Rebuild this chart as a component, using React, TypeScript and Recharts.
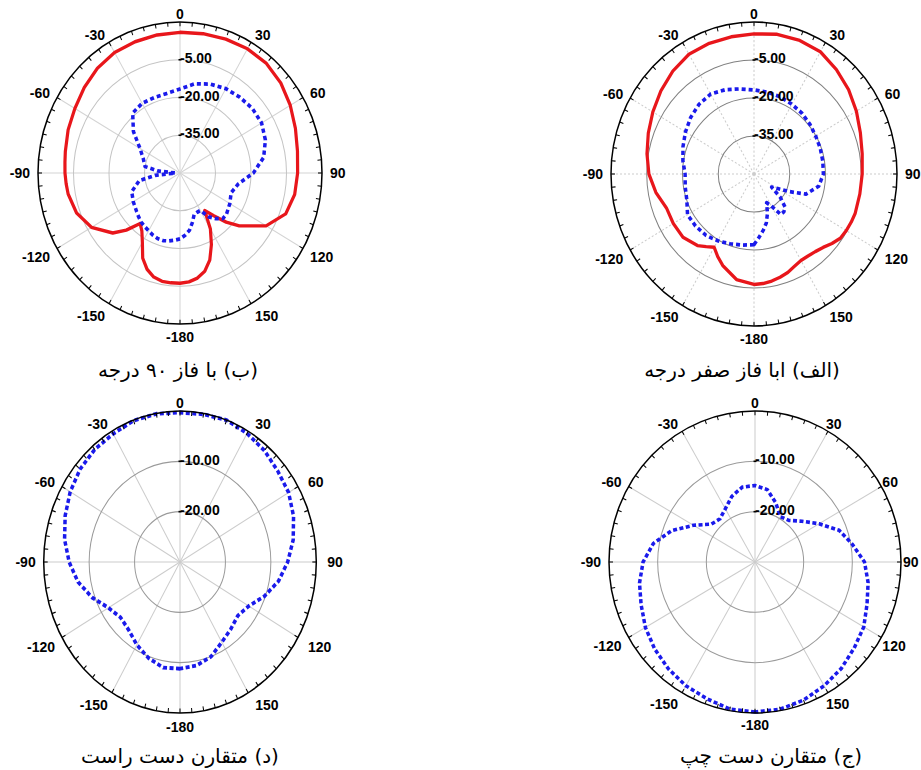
import { PolarAngleAxis, PolarGrid, PolarRadiusAxis, Radar, RadarChart } from 'recharts'

// angle axis: labels every 30 deg, minor ticks every 5 deg
const angleTicks = [-180, -150, -120, -90, -60, -30, 0, 30, 60, 90, 120, 150]
const minorTicks = Array.from({ length: 72 }, (_, i) => -180 + i * 5)

// (ب) 90 degree phase, dB
const anglesB = [-180, -175, -170, -165, -160, -155, -150, -145, -140, -135, -130, -120, -110, -100, -95, -90, -85, -80, -70, -60, -50, -40, -30, -20, -10, 0, 10, 20, 30, 40, 50, 60, 70, 80, 90, 100, 110, 120, 130, 135, 140, 145, 150, 155, 160, 165, 170, 175]
const redB = [-6.2, -6.2, -6.3, -7.2, -9.3, -12.7, -18.2, -21.9, -23.8, -17.9, -12.9, -6.8, -3.5, -2.0, -1.7, -1.4, -1.2, -0.8, 0.3, 1.3, 2.8, 4.3, 5.3, 5.5, 5.7, 5.9, 6.2, 6.6, 7.0, 6.8, 5.6, 3.8, 1.9, 0.4, -0.3, -0.8, -2.5, -8.0, -17.3, -22.4, -27.8, -31.8, -24.3, -18.6, -13.2, -9.6, -7.6, -6.6]
const blueB = [-23.8, -23.2, -22.6, -22.2, -22.3, -22.8, -23.5, -24.0, -24.5, -25.3, -26.1, -27.2, -28.3, -32.5, -39.5, -48.0, -40.5, -35.0, -33.5, -30.5, -24.3, -18.9, -18.0, -18.1, -17.9, -16.6, -14.0, -12.4, -11.3, -10.7, -10.1, -10.2, -11.6, -14.1, -19.0, -25.0, -27.0, -25.7, -24.4, -24.4, -26.3, -28.7, -32.8, -32.8, -32.5, -29.7, -26.9, -25.2]

// (الف) zero phase, dB
const anglesA = [-180, -170, -160, -155, -150, -145, -140, -130, -120, -110, -100, -90, -80, -70, -60, -50, -40, -30, -20, -10, 0, 10, 20, 30, 40, 50, 60, 70, 80, 90, 100, 110, 115, 120, 125, 130, 135, 140, 145, 150, 155, 160, 165, 170, 175]
const redA = [-6.4, -7.7, -11.6, -14.0, -16.6, -15.0, -13.1, -11.1, -10.9, -10.9, -8.2, -5.9, -4.4, -2.8, -1.0, 1.0, 3.0, 4.6, 4.9, 5.0, 5.3, 6.0, 6.1, 5.7, 3.8, 1.8, -0.4, -2.5, -3.9, -4.6, -4.9, -4.8, -5.0, -5.3, -5.8, -7.3, -9.0, -10.0, -10.5, -10.6, -9.8, -8.6, -7.8, -7.1, -6.6]
const blueA = [-22.1, -21.5, -20.7, -20.2, -19.6, -19.1, -18.5, -18.0, -17.8, -20.0, -20.7, -21.1, -19.7, -18.3, -16.8, -15.3, -14.1, -13.6, -14.6, -15.9, -16.8, -17.2, -17.6, -18.2, -18.7, -19.4, -20.1, -20.4, -20.7, -20.9, -22.4, -26.8, -33.5, -38.5, -41.0, -35.5, -31.6, -30.5, -30.5, -35.5, -37.5, -33.5, -30.0, -27.5, -25.0]

// (د) and (ج), 10 degree steps
const anglesCD = [-180, -170, -160, -150, -140, -130, -120, -110, -100, -90, -80, -70, -60, -50, -40, -30, -20, -10, 0, 10, 20, 30, 40, 50, 60, 70, 80, 90, 100, 110, 120, 130, 140, 150, 160, 170]
const rightHand = [-8.8, -8.7, -9.7, -11.0, -12.4, -12.9, -11.8, -9.4, -7.2, -5.6, -4.2, -3.1, -2.1, -1.3, -0.8, -0.6, -0.1, -0.1, -0.3, -0.2, 0.0, -0.5, -1.1, -1.9, -2.4, -3.4, -4.7, -6.3, -8.0, -10.2, -12.5, -13.4, -12.6, -11.6, -10.0, -9.1]
const leftHand = [-0.2, -0.3, -1.1, -1.6, -2.3, -3.1, -4.0, -5.1, -5.9, -7.0, -8.8, -11.8, -15.4, -18.3, -18.8, -17.8, -16.1, -14.9, -14.8, -15.4, -17.5, -19.6, -19.2, -17.4, -14.8, -11.6, -9.7, -7.5, -6.4, -5.5, -4.2, -3.4, -2.4, -1.6, -0.8, -0.3]

const rowsB = anglesB.map((angle, i) => ({ angle, red: redB[i], blue: blueB[i] }))
const rowsA = anglesA.map((angle, i) => ({ angle, red: redA[i], blue: blueA[i] }))
const rowsD = anglesCD.map((angle, i) => ({ angle, blue: rightHand[i] }))
const rowsC = anglesCD.map((angle, i) => ({ angle, blue: leftHand[i] }))

const RED = '#e8161b'
const BLUE = '#1a1aeb'
const SIZE = 400
const C = SIZE / 2
const LABEL_FONT = '"Liberation Sans", Arial, sans-serif'

// angle labels; rightShift nudges the labels on the right-hand side
const makeAngleTick = (rightShift: number) => (props: any) => {
    const { x, y, payload, textAnchor } = props
    const drop = y > C + 1 ? 4 : 0
    const nudge = textAnchor === 'start' ? rightShift : 0
    return (
        <text x={x + nudge} y={y + drop} dy="0.35em" textAnchor={textAnchor} fontFamily={LABEL_FONT} fontWeight="bold" fontSize={14} fill="#000">
            {payload.value}
        </text>
    )
}

const RingTick = (props: any) => {
    const { x, y, payload } = props
    return (
        <g>
            <line x1={x - 1.5} y1={y} x2={x + 1.5} y2={y} stroke="#000" strokeWidth={1.5} />
            <text x={x} y={y + 3} textAnchor="start" fontFamily={LABEL_FONT} fontWeight="bold" fontSize={14} fill="#000">
                {Number(payload.value).toFixed(2)}
            </text>
        </g>
    )
}

type Series = { key: string; color: string; width: number; dash?: string }

type PanelProps = {
    rows: Record<string, number>[]
    series: Series[]
    domain: [number, number]
    rings: number[]
    cx: number
    cy: number
    hr: number
    vr: number
    ringStroke: string
    spokeStroke: string
    spokeDash?: string
    rightShift?: number
}

// one polar plot, stretched vertically like the printed figure
const PolarPanel = ({ rows, series, domain, rings, cx, cy, hr, vr, ringStroke, spokeStroke, spokeDash, rightShift = 0 }: PanelProps) => (
    <div style={{ position: 'absolute', left: cx - C, top: cy - C, width: SIZE, height: SIZE, transform: `scaleY(${vr / hr})`, transformOrigin: `${C}px ${C}px` }}>
        <RadarChart width={SIZE} height={SIZE} data={rows} outerRadius={hr} startAngle={-90} endAngle={-450}>
            <PolarGrid gridType="circle" polarRadius={[]} stroke={spokeStroke} strokeDasharray={spokeDash} />
            <PolarGrid gridType="circle" radialLines={false} stroke={ringStroke} />
            <PolarAngleAxis dataKey="angle" type="number" domain={[-180, 180]} ticks={angleTicks} axisLine={false} tickLine={false} tick={makeAngleTick(rightShift)} tickSize={8} />
            <PolarAngleAxis angleAxisId="minor" dataKey="angle" type="number" domain={[-180, 180]} ticks={minorTicks} orientation="inner" tickSize={4} tick={false} axisLineType="circle" stroke="#000" axisLine={{ stroke: '#000', strokeWidth: 1.5 }} tickLine={{ stroke: '#000' }} />
            <PolarRadiusAxis angle={90} type="number" domain={domain} ticks={rings} axisLine={false} tick={RingTick} allowDataOverflow />
            {series.map(s => (
                <Radar key={s.key} dataKey={s.key} stroke={s.color} strokeWidth={s.width} strokeDasharray={s.dash} strokeLinejoin="round" fill="none" fillOpacity={0} dot={false} isAnimationActive={false} />
            ))}
        </RadarChart>
    </div>
)

const Caption = ({ text, x, y }: { text: string; x: number; y: number }) => (
    <div dir="rtl" style={{ position: 'absolute', left: x - 150, top: y - 14, width: 300, textAlign: 'center', fontFamily: '"DejaVu Sans", sans-serif', fontSize: 20, lineHeight: '28px', color: '#000' }}>
        {text}
    </div>
)

const redBlue: Series[] = [
    { key: 'red', color: RED, width: 3.2 },
    { key: 'blue', color: BLUE, width: 3.5, dash: '4 3' },
]
const blueOnly: Series[] = [{ key: 'blue', color: BLUE, width: 3.5, dash: '4 2.5' }]

export default function App() {
    return (
        <div style={{ position: 'absolute', left: 0, top: 0, width: 921, height: 770, overflow: 'hidden', background: '#fff' }}>
            <PolarPanel rows={rowsB} series={redBlue} domain={[-50, 10]} rings={[-35, -20, -5]} cx={180} cy={173} hr={142} vr={151} ringStroke="#c4c4c4" spokeStroke="#d4d4d4" />
            <Caption text="(ب) با فاز ۹۰ درجه" x={178} y={370} />

            <PolarPanel rows={rowsA} series={redBlue} domain={[-50, 10]} rings={[-35, -20, -5]} cx={753.5} cy={174} hr={143} vr={152} ringStroke="#808080" spokeStroke="#cccccc" spokeDash="2 2" />
            <Caption text="(الف) ابا فاز صفر درجه" x={742} y={370} />

            <PolarPanel rows={rowsD} series={blueOnly} domain={[-30, 0]} rings={[-20, -10]} cx={179.5} cy={561.7} hr={136.3} vr={151} ringStroke="#9a9a9a" spokeStroke="#cccccc" rightShift={3} />
            <Caption text="(د) متقارن دست راست" x={180} y={756} />

            <PolarPanel rows={rowsC} series={blueOnly} domain={[-30, 0]} rings={[-20, -10]} cx={755.3} cy={561.7} hr={146} vr={151} ringStroke="#9a9a9a" spokeStroke="#cccccc" rightShift={-6} />
            <Caption text="(ج) متقارن دست چپ" x={771} y={756} />
        </div>
    )
}
